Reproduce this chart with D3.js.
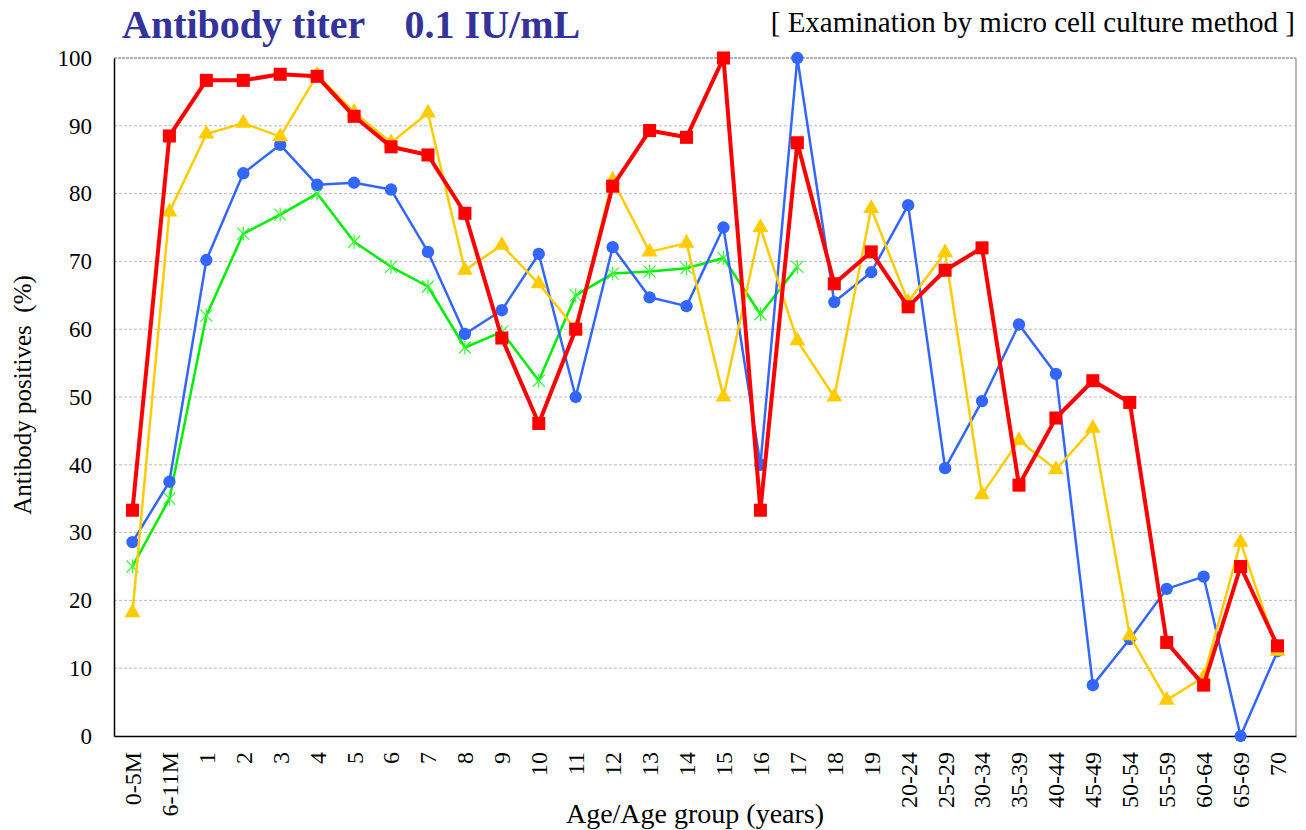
<!DOCTYPE html>
<html>
<head>
<meta charset="utf-8">
<script src="https://cdn.jsdelivr.net/npm/d3@7/dist/d3.min.js"></script>
<style>
  body { margin: 0; background: #fff; }
  text { font-family: "Liberation Serif", "Times New Roman", serif; }
</style>
</head>
<body>
<div id="grafica"></div>
<script>
// --- datos
const ages = ['0-5M', '6-11M', '1', '2', '3', '4', '5', '6', '7', '8', '9', '10', '11', '12', '13', '14',
  '15', '16', '17', '18', '19', '20-24', '25-29', '30-34', '35-39', '40-44', '45-49', '50-54',
  '55-59', '60-64', '65-69', '70'];

const greenVals = [25.0, 35.0, 62.0, 74.1, 76.9, 80.0, 72.9, 69.2, 66.3, 57.3, 59.6, 52.4, 65.0,
  68.2, 68.5, 69.0, 70.5, 62.2, 69.2];
const blueVals = [28.6, 37.5, 70.2, 83.0, 87.2, 81.3, 81.6, 80.6, 71.4, 59.3, 62.8, 71.1, 50.0,
  72.1, 64.7, 63.4, 75.0, 40.0, 100, 64.0, 68.4, 78.3, 39.5, 49.4, 60.7, 53.4, 7.5, 14.3,
  21.7, 23.5, 0, 12.5];
const yellowVals = [18.2, 77.3, 88.8, 90.4, 88.4, 97.5, 92.0, 87.5, 91.9, 68.7, 72.4, 66.7, 60.0,
  82.0, 71.4, 72.7, 50.0, 75.0, 58.3, 50.0, 77.8, 64.0, 71.3, 35.6, 43.6, 39.3, 45.4, 14.8,
  5.3, 8.7, 28.6, 12.5];
const redVals = [33.3, 88.5, 96.7, 96.7, 97.6, 97.3, 91.4, 86.9, 85.7, 77.1, 58.7, 46.1, 60.0,
  81.1, 89.3, 88.3, 100, 33.3, 87.5, 66.7, 71.4, 63.3, 68.7, 72.0, 37.0, 46.9, 52.4, 49.2,
  13.8, 7.5, 25.0, 13.3];

const yTicks = [0, 10, 20, 30, 40, 50, 60, 70, 80, 90, 100];

const series = [
  { name: 'green', values: greenVals, color: '#00ee00', width: 2.5, marker: 'star' },
  { name: 'blue', values: blueVals, color: '#3366ff', width: 2.5, marker: 'circle' },
  { name: 'yellow', values: yellowVals, color: '#ffcc00', width: 2.5, marker: 'triangle' },
  { name: 'red', values: redVals, color: '#ff0000', width: 4, marker: 'square' }
];

// --- grafica
const widthApp = 1306, heightApp = 830;
const plotLeft = 114, plotRight = 1296, plotTop = 58, plotBottom = 736;

const svg = d3.select('#grafica')
  .append('svg')
  .attr('width', widthApp)
  .attr('height', heightApp);

const x = d3.scaleBand().domain(ages).range([plotLeft, plotRight]);
const y = d3.scaleLinear().domain([0, 100]).range([plotBottom, plotTop]);
const cx = (d) => x(d) + x.bandwidth() / 2;

// gridlines
svg.append('g')
  .selectAll('line')
  .data(yTicks.filter((t) => t > 0 && t < 100))
  .enter()
  .append('line')
  .attr('x1', plotLeft).attr('x2', plotRight)
  .attr('y1', (t) => y(t)).attr('y2', (t) => y(t))
  .attr('stroke', '#bbbbbb')
  .attr('stroke-width', 1)
  .attr('stroke-dasharray', '3,2');

// frame
svg.append('line')
  .attr('x1', plotLeft).attr('x2', plotRight).attr('y1', y(100)).attr('y2', y(100))
  .attr('stroke', '#666').attr('stroke-width', 1).attr('stroke-dasharray', '3,1');
svg.append('line')
  .attr('x1', plotRight).attr('x2', plotRight).attr('y1', y(100)).attr('y2', y(0))
  .attr('stroke', '#888').attr('stroke-width', 1.2);

// y axis
const yAxis = svg.append('g')
  .attr('transform', `translate(${plotLeft},0)`)
  .call(d3.axisLeft(y).tickValues(yTicks).tickSize(0).tickPadding(22));
yAxis.select('.domain').attr('stroke', '#000').attr('stroke-width', 1.5);
yAxis.selectAll('text')
  .attr('font-size', 23)
  .attr('fill', '#000');

// x axis
const xAxis = svg.append('g')
  .attr('transform', `translate(0,${plotBottom})`)
  .call(d3.axisBottom(x).tickSize(0).tickPadding(0));
xAxis.select('.domain').attr('stroke', '#000').attr('stroke-width', 1.5);
xAxis.selectAll('text')
  .attr('font-size', 24)
  .attr('fill', '#000')
  .attr('text-anchor', 'end')
  .attr('dy', '0.35em')
  .attr('transform', 'translate(0,16) rotate(-90)')
  .attr('x', 0)
  .attr('y', 0);

// series
const symbols = {
  circle: d3.symbol().type(d3.symbolCircle).size(120),
  square: d3.symbol().type(d3.symbolSquare).size(170),
  triangle: d3.symbol().type(d3.symbolTriangle).size(110)
};

series.forEach((s) => {
  const pts = s.values.map((v, i) => ({ age: ages[i], v: v }));
  const g = svg.append('g').attr('class', s.name);

  g.append('path')
    .datum(pts)
    .attr('fill', 'none')
    .attr('stroke', s.color)
    .attr('stroke-width', s.width)
    .attr('stroke-linejoin', 'round')
    .attr('d', d3.line().x((d) => cx(d.age)).y((d) => y(d.v)));

  if (s.marker === 'star') {
    const star = g.selectAll('g.mk')
      .data(pts)
      .enter()
      .append('g')
      .attr('class', 'mk')
      .attr('transform', (d) => `translate(${cx(d.age)},${y(d.v)})`);
    [[-6, -6, 6, 6], [-6, 6, 6, -6], [0, -7, 0, 7]].forEach((l) => {
      star.append('line')
        .attr('x1', l[0]).attr('y1', l[1]).attr('x2', l[2]).attr('y2', l[3])
        .attr('stroke', '#33ff33')
        .attr('stroke-width', 1.2);
    });
  } else {
    g.selectAll('path.mk')
      .data(pts)
      .enter()
      .append('path')
      .attr('class', 'mk')
      .attr('d', symbols[s.marker])
      .attr('fill', s.color)
      .attr('transform', (d) => `translate(${cx(d.age)},${y(d.v)})`);
  }
});

// titles
svg.append('text')
  .attr('x', 122)
  .attr('y', 38)
  .attr('font-size', 40)
  .attr('font-weight', 'bold')
  .attr('fill', '#333399')
  .style('white-space', 'pre')
  .text('Antibody titer    0.1 IU/mL');

svg.append('text')
  .attr('x', 1295)
  .attr('y', 32)
  .attr('text-anchor', 'end')
  .attr('font-size', 29)
  .attr('fill', '#000')
  .text('[ Examination by micro cell culture method ]');

svg.append('text')
  .attr('transform', 'translate(31,395) rotate(-90)')
  .attr('text-anchor', 'middle')
  .attr('font-size', 25)
  .attr('fill', '#000')
  .style('white-space', 'pre')
  .text('Antibody positives  (%)');

svg.append('text')
  .attr('x', 695)
  .attr('y', 823)
  .attr('text-anchor', 'middle')
  .attr('font-size', 28)
  .attr('fill', '#000')
  .text('Age/Age group (years)');
</script>
</body>
</html>
